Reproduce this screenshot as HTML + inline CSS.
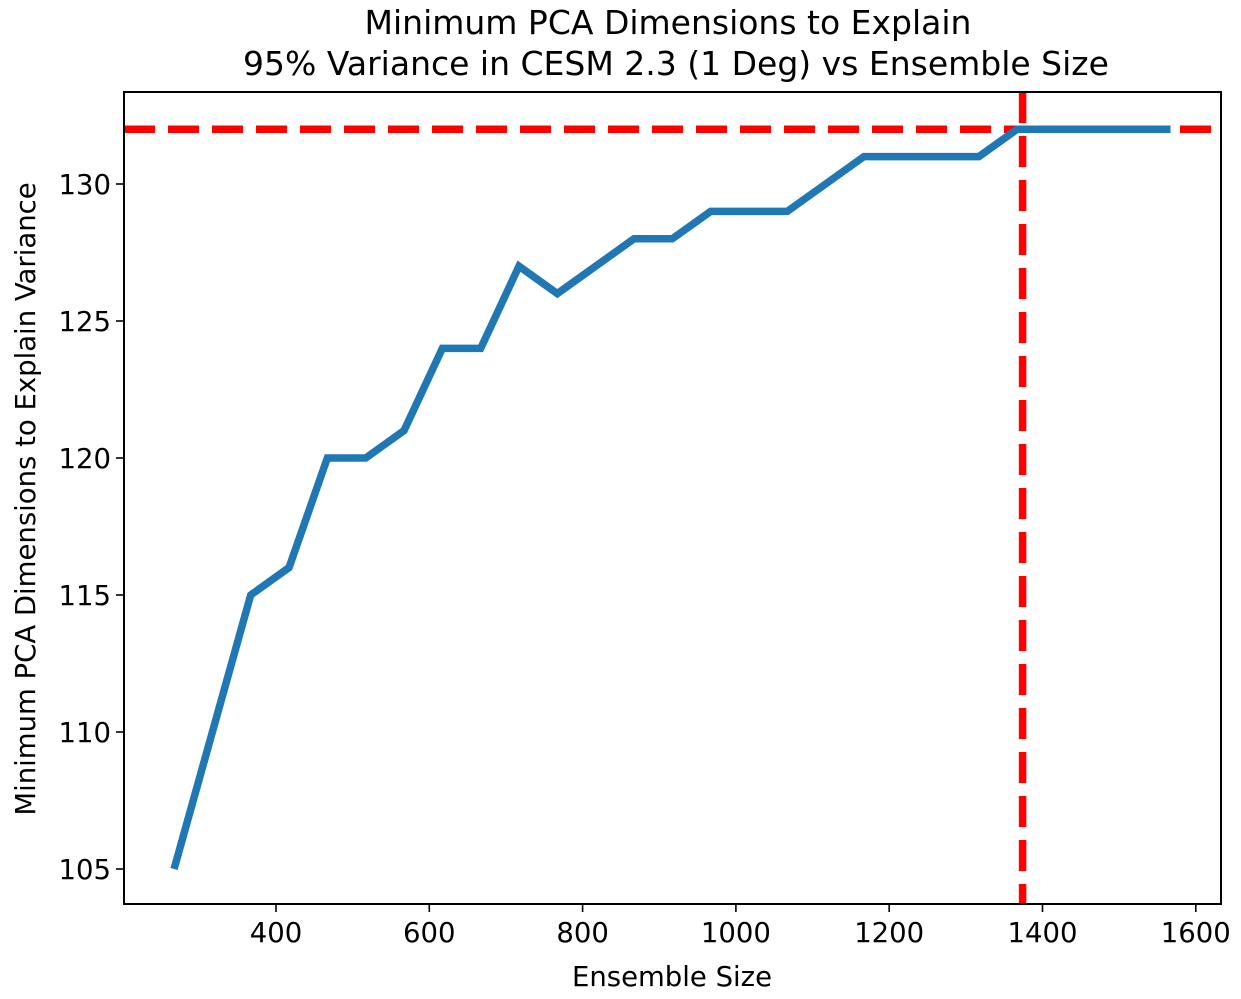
<!DOCTYPE html>
<html><head><meta charset="utf-8"><style>
html,body{margin:0;padding:0;background:#fff;}
svg{display:block;font-family:"DejaVu Sans","Liberation Sans",sans-serif;}
</style></head><body>
<svg id="chart" width="1241" height="999" viewBox="0 0 1241 999">
<text x="668" y="34" font-size="33" text-anchor="middle">Minimum PCA Dimensions to Explain</text>
<text x="676" y="75" font-size="33" text-anchor="middle">95% Variance in CESM 2.3 (1 Deg) vs Ensemble Size</text>
<text x="672" y="986" font-size="27.5" text-anchor="middle">Ensemble Size</text>
<text transform="translate(35,499) rotate(-90)" font-size="27.5" text-anchor="middle">Minimum PCA Dimensions to Explain Variance</text>
<g id="ticks"></g>
<g id="marks"></g>
<rect x="124" y="92" width="1097" height="812" fill="none" stroke="#000" stroke-width="2"/>
</svg>
<script>
const sizes=[267,317,367,417,467,517,567,617,667,717,767,817,867,917,967,1017,1067,1117,1167,1217,1267,1317,1367,1417,1467,1517,1567];
const dims=[105,110,115,116,120,120,121,124,124,127,126,127,128,128,129,129,129,130,131,131,131,131,132,132,132,132,132];
const xTicks=[400,600,800,1000,1200,1400,1600];
const yTicks=[105,110,115,120,125,130];
const thresholdDim=[132];
const thresholdSize=[1374];
const X0=124,X1=1221,Y0=92,Y1=904;
function xs(v){return 276+(v-400)*0.7665;}
function ys(v){return 869-(v-105)*27.4;}
const NS='http://www.w3.org/2000/svg';
const tg=document.getElementById('ticks'),mg=document.getElementById('marks');
function mk(tag,attrs,parent){const e=document.createElementNS(NS,tag);for(const k in attrs)e.setAttribute(k,attrs[k]);parent.appendChild(e);return e;}
xTicks.forEach(t=>{const x=xs(t);
const l=mk('line',{x1:x,x2:x,y1:Y1,y2:Y1+8,stroke:'#000','stroke-width':1.6},tg);


const tx=mk('text',{x:x,y:Y1+38,'font-size':27.5,'text-anchor':'middle'},tg);tx.textContent=t;

});
yTicks.forEach(t=>{const y=ys(t);
const l=mk('line',{x1:X0-8,x2:X0,y1:y,y2:y,stroke:'#000','stroke-width':1.6},tg);


const tx=mk('text',{x:X0-13,y:y+10,'font-size':27.5,'text-anchor':'end'},tg);tx.textContent=t;

});
const h=mk('line',{x1:X0,x2:X1,y1:ys(thresholdDim[0]),y2:ys(thresholdDim[0]),stroke:'#ff0000','stroke-width':7.5,'stroke-dasharray':'31 13'},mg);


const v=mk('line',{x1:xs(thresholdSize[0]),x2:xs(thresholdSize[0]),y1:Y0,y2:Y1,stroke:'#ff0000','stroke-width':7.5,'stroke-dasharray':'31 13'},mg);


const p=mk('polyline',{points:sizes.map((s,i)=>xs(s)+','+ys(dims[i])).join(' '),fill:'none',stroke:'#1f77b4','stroke-width':7.5,'stroke-linejoin':'miter'},mg);


</script>
</body></html>
